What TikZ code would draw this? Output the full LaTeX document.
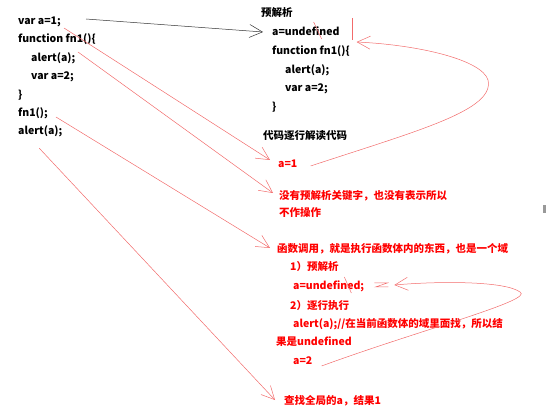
\documentclass[tikz,border=0pt]{standalone}
\usepackage{fontspec}
\setmainfont{Noto Sans CJK SC}
\usetikzlibrary{arrows.meta}
\definecolor{ink}{HTML}{FF0000}
\definecolor{pen}{HTML}{F26B6B}

\begin{document}
\begin{tikzpicture}[x=1pt,y=-1pt,
        code/.style={anchor=west,inner sep=0pt,text height=8pt,text depth=2pt,
            font=\fontsize{10.5}{12}\selectfont\bfseries},
        note/.style={code,text=ink},
        stroke/.style={pen,line width=0.5pt},
        barb/.style={-{Straight Barb[length=13pt,width=13pt]}}]
        \useasboundingbox (0,0) rectangle (547,417);
        % Left: the source
        \node[code] (var1) at (18,22) {var a=1;};
        \node[code] (fn1) at (18,40) {function fn1()\{};
        \node[code] (alert1) at (31,59) {alert(a);};
        \node[code] (var2) at (31,77) {var a=2;};
        \node[code] (brace1) at (18,96) {\}};
        \node[code] (call) at (18,114) {fn1();};
        \node[code] (alert2) at (18,132) {alert(a);};
        % Right: pre-parsing
        \node[code] (pre) at (261,14) {预解析};
        \node[code] (undef) at (272,33) {a=undefined};
        \node[code] (fnr) at (272,52) {function fn1()\{};
        \node[code] (alertr) at (285,71) {alert(a);};
        \node[code] (varr) at (285,89) {var a=2;};
        \node[code] (bracer) at (272,108) {\}};
        \node[code] (line) at (263,137) {代码逐行解读代码};
        % Red notes
        \node[note] (a1) at (278,165) {a=1};
        \node[note] (nokey) at (279,197) {没有预解析关键字，也没有表示所以};
        \node[note] (nokey2) at (279,214) {不作操作};
        \node[note] (callnote) at (277,250) {函数调用，就是执行函数体内的东西，也是一个域};
        \node[note] (step1) at (290,268) {1）预解析};
        \node[note] (undef2) at (293,287) {a=undefined;};
        \node[note] (step2) at (290,306) {2）逐行执行};
        \node[note] (alertnote) at (293,324) {alert(a);//在当前函数体的域里面找，所以结};
        \node[note] (alertnote2) at (276,342) {果是undefined};
        \node[note] (a2) at (293,361) {a=2};
        \node[note] (global) at (284,401) {查找全局的a，结果1};
        % Hoisting arrow
        \draw[barb,black!80,line width=0.5pt] ([shift={(25,-3)}]var1.east) -- ([shift={(-9,-1)}]undef.west);
        % Hand drawn arrows
        \draw[stroke,barb] ([shift={(3,6)}]var1.east) -- ([shift={(-8,-5)}]a1.west);
        \draw[stroke,barb] ([shift={(-18,12)}]fn1.east) -- ([shift={(-6,-4)}]nokey.west);
        \draw[stroke,barb] ([shift={(8,3)}]call.east) -- ([shift={(-7,-2)}]callnote.west);
        \draw[stroke,barb] ([shift={(-1,11)}]alert2.south) -- ([shift={(-9,-1)}]global.west);
        \draw[stroke,barb] ([shift={(13,1)}]a1.east) .. controls (420,130) and (495,110) .. (488,80)
            .. controls (482,60) and (420,45) .. ([shift={(17,9)}]undef.east);
        \draw[stroke,barb] ([shift={(9,5)}]a2.east) .. controls (420,330) and (535,300) .. (520,292)
            .. controls (505,281) and (440,281) .. ([shift={(30,-2)}]undef2.east);
        % Scribbles
        \draw[stroke] ([shift={(13,-15)}]undef.east) -- ([shift={(13,7)}]undef.east);
        \draw[stroke] ([shift={(-26,-11)}]undef.east) -- ([shift={(-18,6)}]undef.east);
        \draw[stroke] ([shift={(-20,-10)}]undef2.east) -- ([shift={(-13,6)}]undef2.east);
        \draw[stroke] ([shift={(10,-4)}]undef2.east) -- ([shift={(23,-4)}]undef2.east)
            -- ([shift={(11,0)}]undef2.east) -- ([shift={(24,0)}]undef2.east);
        \fill[black!40] (543,205) rectangle (546,213);
\end{tikzpicture}
\end{document}
